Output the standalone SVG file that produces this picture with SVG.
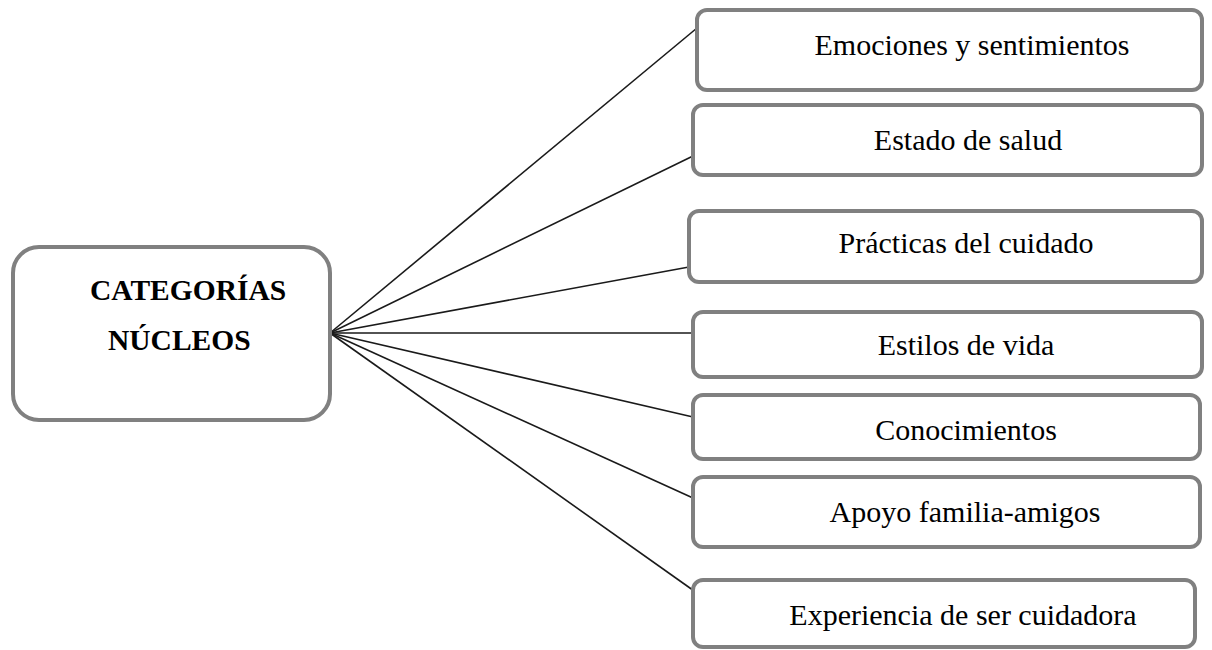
<svg xmlns="http://www.w3.org/2000/svg" width="1212" height="650" viewBox="0 0 1212 650">
<style>
.box{fill:#fff;stroke:#808080;stroke-width:4}
.lbl{font-family:"Liberation Serif","Times New Roman",serif;font-size:30px;fill:#000;text-anchor:middle}
.main{font-family:"Liberation Serif","Times New Roman",serif;font-size:29.5px;font-weight:bold;fill:#000}
.conn line{stroke:#1a1a1a;stroke-width:1.6}
</style>
<rect width="1212" height="650" fill="#fff"/>
<g id="connectors" class="conn">
<line x1="330" y1="333" x2="697" y2="28"/>
<line x1="330" y1="333" x2="693" y2="156"/>
<line x1="330" y1="333" x2="689" y2="267"/>
<line x1="330" y1="333" x2="693" y2="333"/>
<line x1="330" y1="333" x2="693" y2="417"/>
<line x1="330" y1="333" x2="693" y2="498"/>
<line x1="330" y1="333" x2="697" y2="593"/>
</g>
<g id="center">
<rect class="box" x="13" y="247" width="317" height="173" rx="26"/>
<text class="main" x="90" y="300">CATEGORÍAS</text>
<text class="main" x="108" y="350">NÚCLEOS</text>
</g>
<g id="n1"><rect class="box" x="697" y="10" width="505" height="80" rx="10"/><text class="lbl" x="972" y="55">Emociones y sentimientos</text></g>
<g id="n2"><rect class="box" x="693" y="105" width="509" height="70" rx="10"/><text class="lbl" x="968" y="150">Estado de salud</text></g>
<g id="n3"><rect class="box" x="689" y="211" width="513" height="71" rx="10"/><text class="lbl" x="966" y="253">Prácticas del cuidado</text></g>
<g id="n4"><rect class="box" x="693" y="312" width="509" height="65" rx="10"/><text class="lbl" x="966" y="355">Estilos de vida</text></g>
<g id="n5"><rect class="box" x="693" y="395" width="507" height="64" rx="10"/><text class="lbl" x="966" y="440">Conocimientos</text></g>
<g id="n6"><rect class="box" x="693" y="477" width="507" height="70" rx="10"/><text class="lbl" x="965" y="522">Apoyo familia-amigos</text></g>
<g id="n7"><rect class="box" x="693" y="580" width="502" height="67" rx="10"/><text class="lbl" x="963" y="625">Experiencia de ser cuidadora</text></g>
</svg>
